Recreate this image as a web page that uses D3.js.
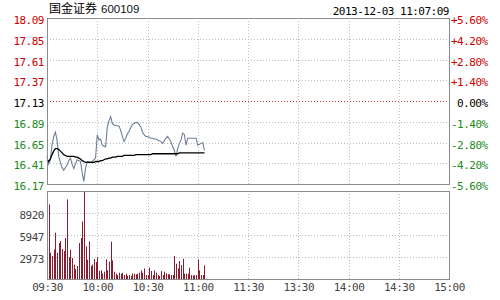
<!DOCTYPE html>
<html><head><meta charset="utf-8">
<script src="https://cdn.jsdelivr.net/npm/d3@7/dist/d3.min.js"></script>
<style>
html,body{margin:0;padding:0;background:#fff;}
svg{display:block;}
.mono{font-family:"DejaVu Sans Mono","Liberation Mono",monospace;font-size:11px;letter-spacing:-0.5px;}
</style></head>
<body>
<svg id="c" width="500" height="300"></svg>
<script>
const title = "国金证券";
const code = "600109";
const stamp = "2013-12-03 11:07:09";
const prevClose = 17.13;
const priceTicks = [18.09, 17.85, 17.61, 17.37, 17.13, 16.89, 16.65, 16.41, 16.17];
const pctTicks = ["+5.60%", "+4.20%", "+2.80%", "+1.40%", "0.00%", "-1.40%", "-2.80%", "-4.20%", "-5.60%"];
const volTicks = [2973, 5947, 8920];
const volMax = 11893;
const timeTicks = [0, 30, 60, 90, 120, 150, 180, 210, 240];
const timeLabels = ["09:30", "10:00", "10:30", "11:00", "11:30", "13:30", "14:00", "14:30", "15:00"];
const price = [16.49,16.40,16.45,16.62,16.72,16.77,16.68,16.49,16.42,16.36,
16.33,16.36,16.39,16.44,16.47,16.40,16.35,16.40,16.45,16.44,
16.43,16.30,16.20,16.35,16.43,16.43,16.42,16.43,16.45,16.47,
16.74,16.68,16.69,16.62,16.61,16.60,16.83,16.90,16.95,16.87,
16.85,16.85,16.84,16.84,16.79,16.72,16.66,16.70,16.75,16.78,
16.82,16.86,16.87,16.88,16.88,16.86,16.83,16.77,16.74,16.72,
16.72,16.71,16.70,16.70,16.69,16.69,16.68,16.67,16.66,16.64,
16.67,16.70,16.72,16.69,16.66,16.60,16.56,16.49,16.58,16.64,
16.68,16.76,16.74,16.62,16.70,16.70,16.70,16.70,16.70,16.70,
16.62,16.63,16.64,16.65,16.56];
const avgPrice = [16.45,16.43,16.46,16.51,16.55,16.58,16.58,16.57,16.55,16.53,
16.51,16.50,16.49,16.49,16.49,16.49,16.49,16.48,16.48,16.47,
16.46,16.44,16.43,16.42,16.42,16.42,16.42,16.42,16.42,16.43,
16.43,16.43,16.44,16.44,16.45,16.46,16.46,16.47,16.47,16.48,
16.48,16.48,16.49,16.49,16.49,16.49,16.50,16.50,16.50,16.50,
16.50,16.50,16.50,16.51,16.51,16.51,16.51,16.51,16.51,16.51,
16.51,16.51,16.51,16.52,16.52,16.52,16.52,16.52,16.52,16.52,
16.52,16.52,16.52,16.52,16.52,16.52,16.52,16.52,16.52,16.53,
16.53,16.53,16.53,16.53,16.53,16.53,16.53,16.53,16.53,16.53,
16.53,16.53,16.53,16.53,16.53];
const volume = [2660,10080,3550,3100,4000,6250,3550,4860,5130,4050,
3780,5540,10760,2930,3960,2840,1940,1350,1760,4860,
5540,7790,11880,4410,2610,5090,1760,1940,2700,2300,
2930,1100,1170,720,990,2660,1170,2340,5040,2520,
990,720,540,850,720,850,540,720,450,540,
400,720,720,630,720,850,1170,850,1440,540,
540,1530,1080,540,1170,850,540,400,1080,540,
990,770,630,630,540,540,3100,2070,1440,2430,
1890,2740,720,720,720,1530,540,500,500,540,
2660,1170,540,540,1850];

const svg = d3.select("#c");
const L = 47, R = 449, pT = 18, pB = 184, vT = 191, vB = 279;
const x = d3.scaleLinear().domain([0, 240]).range([L, R]);
const y = d3.scaleLinear().domain([priceTicks[priceTicks.length-1], priceTicks[0]]).range([pB, pT]);
const yPct = d3.scalePoint().domain(pctTicks).range([pT, pB]);
const yv = d3.scaleLinear().domain([0, volMax]).range([vB, vT]);

const grid = "#bdbdbd", dash = "1,2";
const up = "#cc0000", down = "#1d8a1d";

// price grid
svg.append("g").selectAll("line").data(priceTicks.slice(1, -1)).join("line")
  .attr("x1", L).attr("x2", R)
  .attr("y1", d => Math.round(y(d)) + 0.5).attr("y2", d => Math.round(y(d)) + 0.5)
  .attr("stroke", d => d === prevClose ? "#cc3333" : grid)
  .attr("stroke-dasharray", dash);
svg.append("g").selectAll("line").data(timeTicks.slice(1, -1)).join("line")
  .attr("x1", d => Math.round(x(d)) + 0.5).attr("x2", d => Math.round(x(d)) + 0.5)
  .attr("y1", pT).attr("y2", pB).attr("stroke", grid).attr("stroke-dasharray", dash);
// volume grid
svg.append("g").selectAll("line").data(volTicks).join("line")
  .attr("x1", L).attr("x2", R)
  .attr("y1", d => Math.round(yv(d)) + 0.5).attr("y2", d => Math.round(yv(d)) + 0.5)
  .attr("stroke", grid).attr("stroke-dasharray", dash);
svg.append("g").selectAll("line").data(timeTicks.slice(1, -1)).join("line")
  .attr("x1", d => Math.round(x(d)) + 0.5).attr("x2", d => Math.round(x(d)) + 0.5)
  .attr("y1", vT).attr("y2", vB).attr("stroke", grid).attr("stroke-dasharray", dash);

// volume bars
svg.append("g").selectAll("rect").data(volume).join("rect")
  .attr("x", (d, i) => Math.round(x(i)))
  .attr("width", 1)
  .attr("y", d => yv(d))
  .attr("height", d => vB - yv(d))
  .attr("fill", "#8b1c30");

// lines
svg.append("path").datum(price)
  .attr("d", d3.line().x((d, i) => x(i)).y(d => y(d)))
  .attr("fill", "none").attr("stroke", "#6d7f96").attr("stroke-width", 1.1);
svg.append("path").datum(avgPrice)
  .attr("d", d3.line().x((d, i) => x(i)).y(d => y(d)))
  .attr("fill", "none").attr("stroke", "#000").attr("stroke-width", 1.3);

// frames
svg.append("rect").attr("x", L + 0.5).attr("y", pT + 0.5).attr("width", R - L).attr("height", pB - pT)
  .attr("fill", "none").attr("stroke", "#8c8c8c");
svg.append("rect").attr("x", L + 0.5).attr("y", vT + 0.5).attr("width", R - L).attr("height", vB - vT)
  .attr("fill", "none").attr("stroke", "#8c8c8c");

// axes
const colorOf = v => v > prevClose ? up : (v < prevClose ? down : "#000");
const ax1 = svg.append("g").attr("class", "mono").attr("transform", `translate(${L - 3},2)`)
  .call(d3.axisLeft(y).tickValues(priceTicks).tickSize(0).tickPadding(0).tickFormat(d3.format(".2f")));
ax1.select(".domain").remove();
ax1.attr("font-family", null).attr("font-size", null);
ax1.selectAll("text").attr("fill", d => colorOf(d));

const ax2 = svg.append("g").attr("class", "mono").attr("transform", `translate(${R + 2},2)`)
  .call(d3.axisRight(yPct).tickSize(0).tickPadding(0));
ax2.select(".domain").remove();
ax2.attr("font-family", null).attr("font-size", null);
ax2.selectAll("text").attr("fill", (d, i) => colorOf(priceTicks[i]))
  .attr("dx", d => d === "0.00%" ? 6 : 0);

const ax3 = svg.append("g").attr("class", "mono").attr("transform", `translate(${L - 3},2)`)
  .call(d3.axisLeft(yv).tickValues(volTicks).tickSize(0).tickPadding(0).tickFormat(d3.format("d")));
ax3.select(".domain").remove();
ax3.attr("font-family", null).attr("font-size", null);
ax3.selectAll("text").attr("fill", "#444");

const ax4 = svg.append("g").attr("class", "mono").attr("transform", `translate(0,${vB + 4})`)
  .call(d3.axisBottom(x).tickValues(timeTicks).tickSize(0).tickPadding(0).tickFormat((d, i) => timeLabels[i]));
ax4.select(".domain").remove();
ax4.attr("font-family", null).attr("font-size", null);
ax4.selectAll("text").attr("fill", "#444");

// header
svg.append("text").attr("x", 49).attr("y", 13)
  .attr("font-family", "'Noto Sans CJK SC', sans-serif").attr("font-size", 12).attr("fill", "#000")
  .text(title);
svg.append("text").attr("x", 101).attr("y", 13)
  .attr("font-family", "'Liberation Sans', Arial, sans-serif").attr("font-size", 11.5).attr("fill", "#111")
  .text(code);
svg.append("text").attr("class", "mono").attr("x", R).attr("y", 15).attr("text-anchor", "end")
  .attr("fill", "#000").text(stamp);
</script>
</body></html>
